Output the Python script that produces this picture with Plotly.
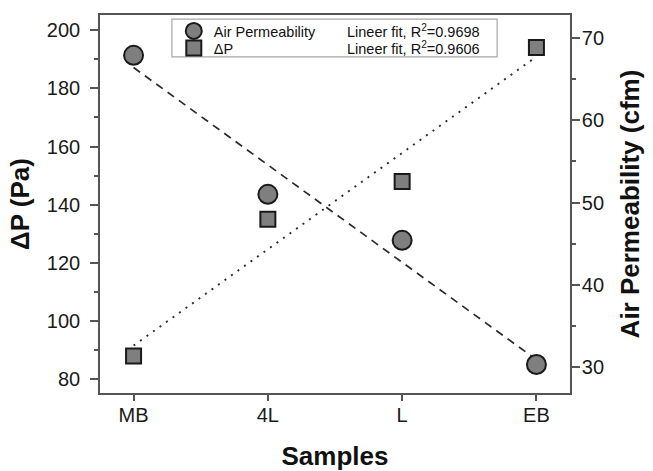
import numpy as np
import plotly.graph_objects as go

categories = ["MB", "4L", "L", "EB"]
delta_p = [88, 135, 148, 194]           # Pa, left axis
air_perm = [67.9, 51.0, 45.4, 30.3]     # cfm, right axis
r2_air = "0.9698"
r2_dp = "0.9606"

x = np.arange(len(categories))
fit_air = np.polyval(np.polyfit(x, air_perm, 1), x)
fit_dp = np.polyval(np.polyfit(x, delta_p, 1), x)

font = "Liberation Sans, Arial, sans-serif"
line_col = "#2b2b2b"
axis_col = "#555555"

fig = go.Figure()
fig.add_trace(go.Scatter(x=x, y=fit_air, mode="lines", yaxis="y2", showlegend=False,
                         line=dict(color=line_col, width=1.7, dash="8px,6px")))
fig.add_trace(go.Scatter(x=x, y=fit_dp, mode="lines", showlegend=False,
                         line=dict(color=line_col, width=1.9, dash="2px,6px")))
fig.add_trace(go.Scatter(x=x, y=air_perm, mode="markers", yaxis="y2", name="Air Permeability",
                         legend="legend",
                         marker=dict(symbol="circle", size=19, color="#7f7f7f",
                                     line=dict(color="#1a1a1a", width=2))))
fig.add_trace(go.Scatter(x=x, y=delta_p, mode="markers", name="ΔP",
                         legend="legend2",
                         marker=dict(symbol="square", size=15, color="#7f7f7f",
                                     line=dict(color="#1a1a1a", width=2))))

def axis_style(ticklen):
    return dict(showline=True, linecolor=axis_col, linewidth=1.6,
                ticks="outside", ticklen=ticklen, tickcolor=axis_col, tickwidth=1.6,
                showgrid=False, zeroline=False, automargin=False,
                tickfont=dict(size=20, color="#1a1a1a"))

legend_common = dict(x=0.157, xanchor="left", yanchor="top",
                     bgcolor="rgba(0,0,0,0)", borderwidth=0,
                     font=dict(size=14.5, color="#111"))

fig.update_layout(
    width=653, height=471,
    margin=dict(l=100, r=83, t=15, b=78),
    paper_bgcolor="white", plot_bgcolor="white",
    font=dict(family=font, color="#111"),
    xaxis=dict(range=[-0.25, 3.25], tickvals=list(x), ticktext=categories, mirror=True,
               ticklabelstandoff=-3,
               title=dict(text="<b>Samples</b>", font=dict(size=26), standoff=23),
               **axis_style(6)),
    yaxis=dict(range=[75.3, 205.2], tickvals=[80, 100, 120, 140, 160, 180, 200],
               minor=dict(tickvals=[90, 110, 130, 150, 170, 190], ticks="outside",
                          ticklen=4, tickcolor=axis_col, tickwidth=1.6),
               ticklabelstandoff=6,
               title=dict(text="<b>ΔP (Pa)</b>", font=dict(size=26), standoff=10),
               **axis_style(8)),
    yaxis2=dict(range=[26.84, 72.8], overlaying="y", side="right",
                tickvals=[30, 40, 50, 60, 70],
                minor=dict(tickvals=[35, 45, 55, 65], ticks="outside",
                           ticklen=4, tickcolor=axis_col, tickwidth=1.6),
                ticklabelstandoff=-2,
                title=dict(text="<b>Air Permeability (cfm)</b>", font=dict(size=26), standoff=18),
                **axis_style(8)),
    legend=dict(y=1.0, **legend_common),
    legend2=dict(y=0.955, **legend_common),
    shapes=[dict(type="rect", xref="paper", yref="paper",
                 x0=0.153, x1=0.845, y0=0.889, y1=0.989,
                 line=dict(color="#a8a8a8", width=1.2), fillcolor="rgba(0,0,0,0)")],
    annotations=[
        dict(text="Lineer fit, R<sup>2</sup>=" + r2_air, xref="paper", yref="paper",
             x=0.521, y=0.958, xanchor="left", yanchor="middle", showarrow=False,
             font=dict(size=14.5, color="#111")),
        dict(text="Lineer fit, R<sup>2</sup>=" + r2_dp, xref="paper", yref="paper",
             x=0.521, y=0.912, xanchor="left", yanchor="middle", showarrow=False,
             font=dict(size=14.5, color="#111")),
    ],
)

fig.write_html("out.html", config={"displayModeBar": False},
               post_script="document.body.style.margin='0';document.body.style.overflow='hidden';")
